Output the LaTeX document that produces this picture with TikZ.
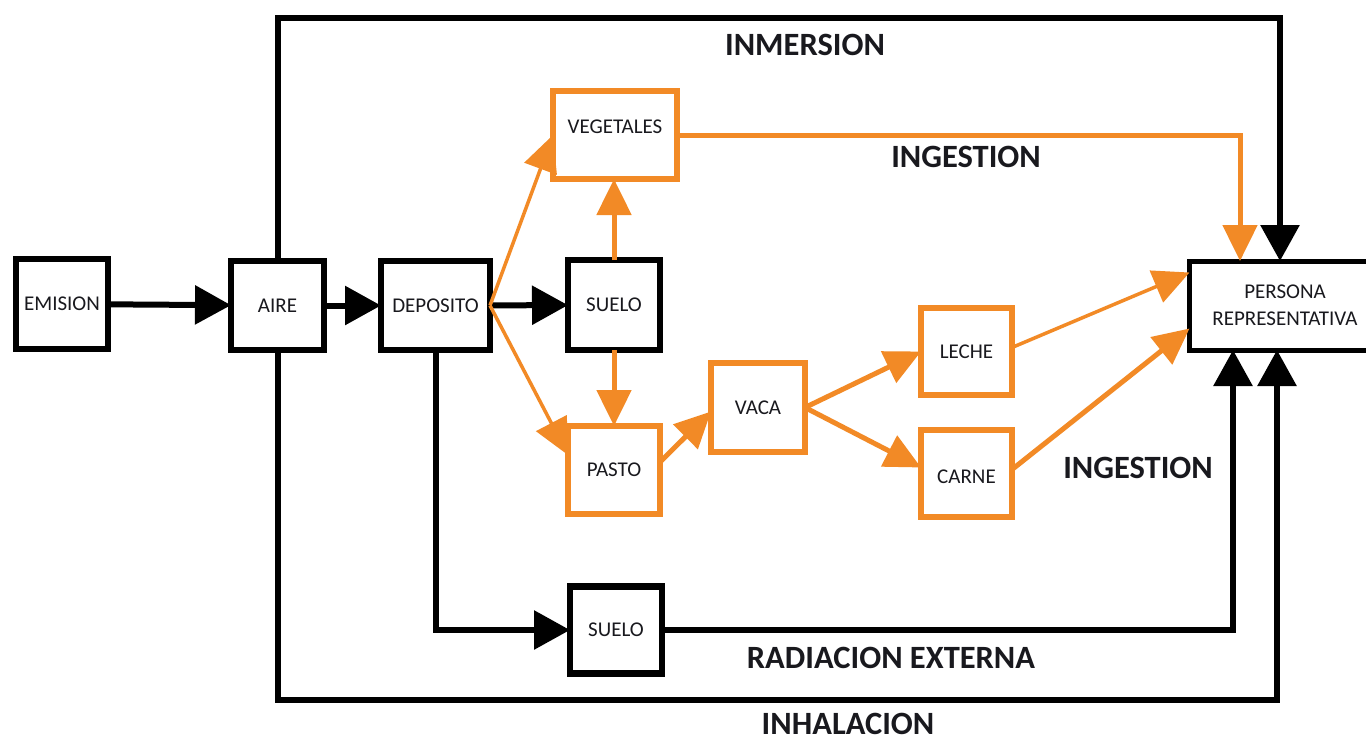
\documentclass[tikz,border=0pt]{standalone}
\usepackage{fontspec}
\setmainfont{Carlito}
\usetikzlibrary{arrows.meta}
\definecolor{org}{RGB}{242,138,38}
\definecolor{txt}{RGB}{25,25,30}
\tikzset{
  bbox/.style={draw=black,line width=6.5pt,fill=white,inner sep=0pt,outer sep=0pt,text=txt,font=\fontsize{21}{27}\selectfont,align=center},
  obox/.style={bbox,draw=org},
  blk/.style={draw=black,line width=6pt,-{Triangle[length=36pt,width=38pt]}},
  ora/.style={draw=org,line width=5pt,-{Triangle[length=36pt,width=34pt]}},
  orathin/.style={ora,line width=3.5pt},
  lbl/.style={text=txt,font=\fontsize{32.5}{34}\selectfont\bfseries,inner sep=1pt}
}
\begin{document}
\begin{tikzpicture}[x=1pt,y=-1pt]
\useasboundingbox[fill=white] (0,0) rectangle (1366,742);
% boxes
\node[bbox,minimum width=92pt,minimum height=90pt] (emision) at (62,304) {EMISION};
\node[bbox,minimum width=93pt,minimum height=89pt] (aire) at (277.5,305.5) {AIRE};
\node[bbox,minimum width=109pt,minimum height=89pt] (deposito) at (435.5,305.5) {DEPOSITO};
\node[bbox,minimum width=92pt,minimum height=90pt] (suelo1) at (614,305) {SUELO};
\node[obox,minimum width=124pt,minimum height=88pt,text height=13.5pt,text depth=16pt] (vegetales) at (615,135) {VEGETALES};
\node[obox,minimum width=92pt,minimum height=88pt] (pasto) at (614,470) {PASTO};
\node[obox,minimum width=94pt,minimum height=89pt] (vaca) at (758,407.5) {VACA};
\node[obox,minimum width=91pt,minimum height=87pt] (leche) at (966.5,351.5) {LECHE};
\node[obox,minimum width=91pt,minimum height=87pt,text height=20.5pt,text depth=0pt] (carne) at (966.5,473.5) {CARNE};
\node[bbox,minimum width=191pt,minimum height=89pt,line width=5pt] (persona) at (1285,305.5) {PERSONA\\REPRESENTATIVA};
\node[bbox,minimum width=92pt,minimum height=87pt] (suelo2) at (616,630) {SUELO};
% reference points on persona
\path (persona.north) ++(-45,0) coordinate (pn1);
\path (persona.north) ++(-5,0) coordinate (pn2);
\path (persona.south) ++(-52,0) coordinate (ps1);
\path (persona.south) ++(-8,0) coordinate (ps2);
\coordinate (inmTR) at (1280,18);
\coordinate (inhB) at (1277,700);
% black connectors
\draw[blk] (emision) -- (aire);
\draw[blk] (aire) -- (deposito);
\draw[blk] (deposito) -- (suelo1);
\draw[blk] (aire.north) |- (inmTR) -- (pn2);
\draw[blk] (deposito.south) |- (suelo2.west);
\draw[blk] (suelo2.east) -| (ps1);
\draw[blk] (aire.south) |- (inhB) -- (ps2);
% orange connectors
\draw[ora] (vegetales.east) -| (pn1);
\draw[orathin] (deposito.east) -- (vegetales.west);
\draw[orathin] (deposito.east) -- ([yshift=15pt]pasto.west);
\draw[ora] (suelo1.north) -- (suelo1.north |- vegetales.south);
\draw[ora] (suelo1.south) -- (suelo1.south |- pasto.north);
\draw[ora] ([yshift=8pt]pasto.east) -- ([yshift=-4pt]vaca.west);
\draw[ora] (vaca.east) -- (leche.west);
\draw[ora] (vaca.east) -- ([yshift=6pt]carne.west);
\draw[orathin] ([yshift=4pt]leche.east) -- ([yshift=33pt]persona.west);
\draw[ora] ([yshift=4pt]carne.east) -- ([yshift=-23pt]persona.west);
% labels
\node[lbl] (linm) at (805,45) {INMERSION};
\node[lbl] (ling1) at (966,157) {INGESTION};
\node[lbl] (ling2) at (1138,468) {INGESTION};
\node[lbl] (lrad) at (891,658) {RADIACION EXTERNA};
\node[lbl] (linh) at (848,724) {INHALACION};
\end{tikzpicture}
\end{document}
